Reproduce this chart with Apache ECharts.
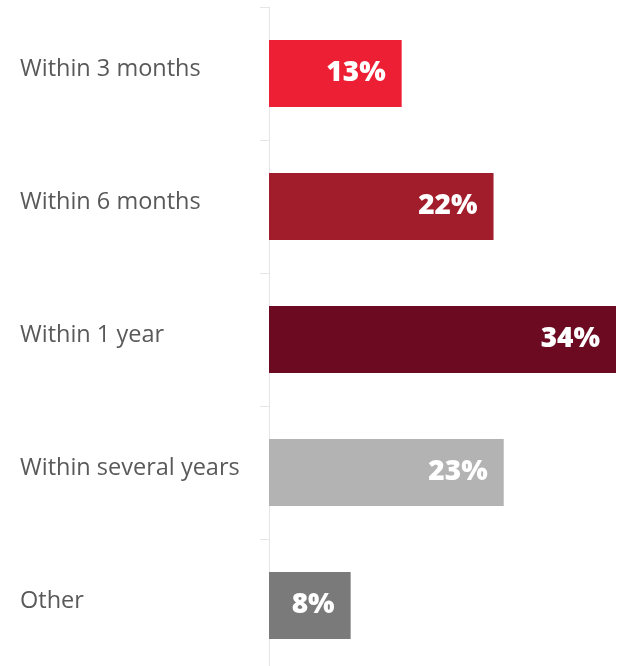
<!DOCTYPE html>
<html>
<head>
<meta charset="utf-8">
<script src="https://cdn.jsdelivr.net/npm/echarts@6/dist/echarts.min.js"></script>
<style>
  html, body { margin: 0; padding: 0; background: #ffffff; overflow: hidden; }
  #chart { width: 617px; height: 680px; }
</style>
</head>
<body>
<div id="chart"></div>
<script>
// Timeframe categories, top to bottom
const categories = ['Within 3 months', 'Within 6 months', 'Within 1 year', 'Within several years', 'Other'];
// Share of respondents, percent
const values = [13, 22, 34, 23, 8];
// Bar fill per category
const barColors = ['#ed1f35', '#a21d2b', '#6c0a22', '#b3b3b3', '#7a7a7a'];

const chart = echarts.init(document.getElementById('chart'), null, { renderer: 'canvas' });

chart.setOption({
  animation: false,
  grid: { left: 269, right: 1, top: 7, height: 665, containLabel: false },
  xAxis: {
    type: 'value',
    min: 0,
    max: 34,
    show: false
  },
  yAxis: {
    type: 'category',
    data: categories,
    inverse: true,
    axisLine: { show: true, lineStyle: { color: '#e6e6e6', width: 1 } },
    axisTick: { show: true, length: 9, lineStyle: { color: '#e6e6e6', width: 1 } },
    axisLabel: {
      margin: 249,
      align: 'left',
      verticalAlign: 'bottom',
      lineHeight: 9,
      color: '#595959',
      fontSize: 23.5,
      fontFamily: 'Open Sans'
    }
  },
  series: [{
    type: 'bar',
    data: values.map((v, i) => ({ value: v, itemStyle: { color: barColors[i] } })),
    barWidth: 67,
    label: {
      show: true,
      position: 'insideRight',
      distance: 16,
      color: '#ffffff',
      fontSize: 28,
      fontWeight: 800,
      fontFamily: 'Open Sans',
      formatter: p => p.value + '%'
    }
  }]
});
</script>
</body>
</html>
